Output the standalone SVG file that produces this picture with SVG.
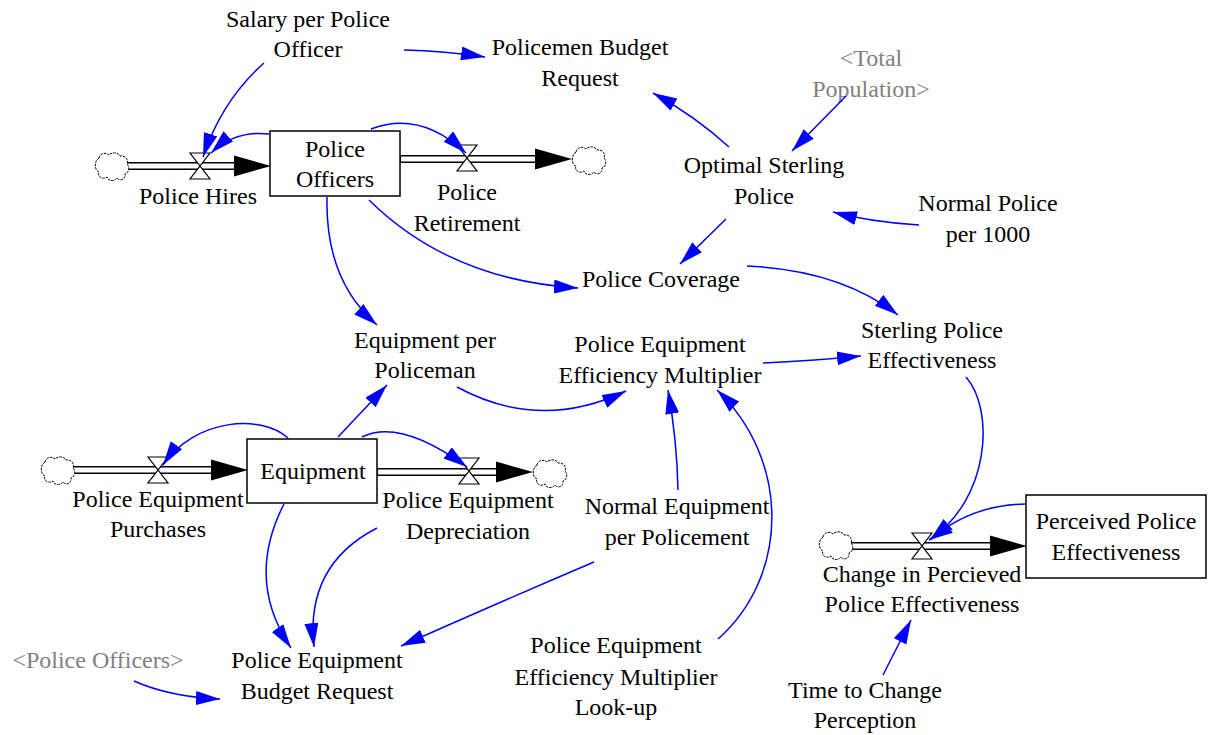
<svg xmlns="http://www.w3.org/2000/svg" width="1208" height="735" viewBox="0 0 1208 735">
  <style>
    text { font-family: "Liberation Serif", "Times New Roman", serif; font-size: 24px; fill: #000; text-anchor: middle; }
    text.shadow { fill: #808080; }
    .box { fill: #fff; stroke: #000; stroke-width: 1.5; }
    .pipe-out { fill: none; stroke: #000; stroke-width: 8; }
    .pipe-in { fill: none; stroke: #fff; stroke-width: 5; }
    .flowhead { fill: #000; }
    .valve { fill: #fff; stroke: #000; stroke-width: 1.2; }
    .cloud { fill: #fff; stroke: #000; stroke-width: 1; stroke-dasharray: 2.5 1; }
    .link { fill: none; stroke: #0000FF; stroke-width: 1.5; marker-end: url(#arrow); }
  </style>
  <defs>
    <marker id="arrow" markerUnits="userSpaceOnUse" markerWidth="26" markerHeight="16" refX="24" refY="7" orient="auto">
      <path d="M0,0 L24,7 L0,14 Z" fill="#0000FF"/>
    </marker>
    <path id="cloud" class="cloud" d="M-13,-9 C-12,-14 -6,-15 -3,-12 C0,-15 6,-15 8,-11 C13,-12 17,-7 15,-3 C18,0 17,6 13,7 C14,12 8,15 5,11 C2,15 -4,14 -5,10 C-9,13 -15,10 -13,5 C-18,3 -18,-6 -13,-9 Z"/>
    <path id="valve" class="valve" d="M-10,-13 H10 L-10,13 H10 Z"/>
  </defs>

  <rect width="1208" height="735" fill="#fff"/>

  <!-- material flows: pipes, flow heads, sources and sinks -->
  <g id="pipes">
    <!-- Police Hires -->
    <path class="pipe-out" d="M126,166 H236"/>
    <path class="pipe-in" d="M126,166 H236"/>
    <polygon class="flowhead" points="234,155.5 271,166 234,176.5"/>
    <use href="#cloud" x="112" y="167"/>
    <!-- Police Retirement -->
    <path class="pipe-out" d="M400,159 H537"/>
    <path class="pipe-in" d="M401,159 H537"/>
    <polygon class="flowhead" points="535,148.5 572,159 535,169.5"/>
    <use href="#cloud" x="589" y="161"/>
    <!-- Police Equipment Purchases -->
    <path class="pipe-out" d="M72,470 H213"/>
    <path class="pipe-in" d="M72,470 H213"/>
    <polygon class="flowhead" points="211,459.5 248,470 211,480.5"/>
    <use href="#cloud" x="58" y="471"/>
    <!-- Police Equipment Depreciation -->
    <path class="pipe-out" d="M377,472 H498"/>
    <path class="pipe-in" d="M378,472 H498"/>
    <polygon class="flowhead" points="496,461.5 533,472 496,482.5"/>
    <use href="#cloud" x="550" y="474"/>
    <!-- Change in Percieved Police Effectiveness -->
    <path class="pipe-out" d="M850,546 H992"/>
    <path class="pipe-in" d="M850,546 H992"/>
    <polygon class="flowhead" points="990,535.5 1027,546 990,556.5"/>
    <use href="#cloud" x="836" y="546"/>
  </g>

  <!-- stocks -->
  <g id="police-officers">
    <rect class="box" x="270" y="131" width="130" height="65"/>
    <text x="335" y="157">Police</text>
    <text x="335" y="187">Officers</text>
  </g>
  <g id="equipment">
    <rect class="box" x="247" y="439" width="130" height="64"/>
    <text x="313" y="479">Equipment</text>
  </g>
  <g id="perceived-police-effectiveness">
    <rect class="box" x="1026" y="495" width="180" height="83"/>
    <text x="1116" y="529">Perceived Police</text>
    <text x="1116" y="560">Effectiveness</text>
  </g>

  <!-- flow valves -->
  <g id="police-hires">
    <use href="#valve" x="200" y="166"/>
    <text x="198" y="204">Police Hires</text>
  </g>
  <g id="police-retirement">
    <use href="#valve" x="467" y="158"/>
    <text x="467" y="200">Police</text>
    <text x="467" y="231">Retirement</text>
  </g>
  <g id="police-equipment-purchases">
    <use href="#valve" x="158" y="470"/>
    <text x="158" y="507">Police Equipment</text>
    <text x="158" y="537">Purchases</text>
  </g>
  <g id="police-equipment-depreciation">
    <use href="#valve" x="469" y="471"/>
    <text x="468" y="508">Police Equipment</text>
    <text x="468" y="539">Depreciation</text>
  </g>
  <g id="change-in-percieved-police-effectiveness">
    <use href="#valve" x="922" y="546"/>
    <text x="922" y="582">Change in Percieved</text>
    <text x="922" y="612">Police Effectiveness</text>
  </g>

  <!-- auxiliaries -->
  <g id="salary-per-police-officer">
    <text x="308" y="27">Salary per Police</text>
    <text x="308" y="57">Officer</text>
  </g>
  <g id="policemen-budget-request">
    <text x="580" y="55">Policemen Budget</text>
    <text x="580" y="86">Request</text>
  </g>
  <g id="total-population">
    <text class="shadow" x="871" y="66">&lt;Total</text>
    <text class="shadow" x="871" y="97">Population&gt;</text>
  </g>
  <g id="optimal-sterling-police">
    <text x="764" y="173">Optimal Sterling</text>
    <text x="764" y="204">Police</text>
  </g>
  <g id="normal-police-per-1000">
    <text x="988" y="211">Normal Police</text>
    <text x="988" y="242">per 1000</text>
  </g>
  <g id="police-coverage">
    <text x="661" y="287">Police Coverage</text>
  </g>
  <g id="equipment-per-policeman">
    <text x="425" y="348">Equipment per</text>
    <text x="425" y="378">Policeman</text>
  </g>
  <g id="police-equipment-efficiency-multiplier">
    <text x="660" y="352">Police Equipment</text>
    <text x="660" y="383">Efficiency Multiplier</text>
  </g>
  <g id="sterling-police-effectiveness">
    <text x="932" y="338">Sterling Police</text>
    <text x="932" y="368">Effectiveness</text>
  </g>
  <g id="normal-equipment-per-policement">
    <text x="677" y="514">Normal Equipment</text>
    <text x="677" y="545">per Policement</text>
  </g>
  <g id="police-equipment-efficiency-multiplier-look-up">
    <text x="616" y="653">Police Equipment</text>
    <text x="616" y="685">Efficiency Multiplier</text>
    <text x="616" y="715">Look-up</text>
  </g>
  <g id="police-officers-shadow">
    <text class="shadow" x="98" y="668">&lt;Police Officers&gt;</text>
  </g>
  <g id="police-equipment-budget-request">
    <text x="317" y="668">Police Equipment</text>
    <text x="317" y="699">Budget Request</text>
  </g>
  <g id="time-to-change-perception">
    <text x="865" y="698">Time to Change</text>
    <text x="865" y="728">Perception</text>
  </g>

  <!-- information links -->
  <g id="links">
    <path class="link" d="M264,63 Q222,100 203,157"/>
    <path class="link" d="M269,134 Q235,130 211,153"/>
    <path class="link" d="M404,50 Q445,51 485,57"/>
    <path class="link" d="M371,129 Q420,110 466,153"/>
    <path class="link" d="M729,147 Q695,116 653,93"/>
    <path class="link" d="M846,96 L792,151"/>
    <path class="link" d="M919,225 Q870,222 833,212"/>
    <path class="link" d="M726,219 L680,264"/>
    <path class="link" d="M369,200 Q450,280 578,288"/>
    <path class="link" d="M327,197 Q325,280 377,325"/>
    <path class="link" d="M747,266 Q840,270 898,315"/>
    <path class="link" d="M763,363 Q810,361 861,356"/>
    <path class="link" d="M457,387 Q540,432 626,391"/>
    <path class="link" d="M678,490 Q677,440 668,390"/>
    <path class="link" d="M718,639 C790,575 790,460 717,390"/>
    <path class="link" d="M966,377 C995,410 990,500 929,540"/>
    <path class="link" d="M1025,504 Q970,505 930,540"/>
    <path class="link" d="M883,675 L911,620"/>
    <path class="link" d="M288,438 C262,414 195,418 163,465"/>
    <path class="link" d="M338,437 L387,385"/>
    <path class="link" d="M362,437 Q400,418 467,467"/>
    <path class="link" d="M284,504 Q245,580 291,648"/>
    <path class="link" d="M377,528 Q305,565 314,647"/>
    <path class="link" d="M594,562 Q500,602 401,646"/>
    <path class="link" d="M134,681 Q170,697 220,699"/>
  </g>
</svg>
